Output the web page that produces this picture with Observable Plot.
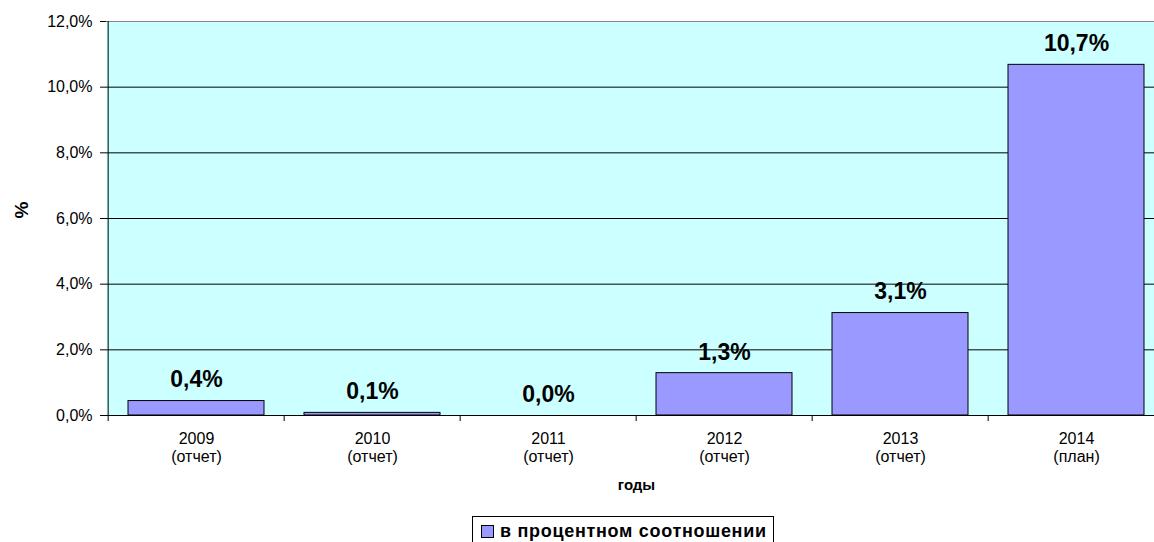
<!DOCTYPE html>
<html>
<head>
<meta charset="utf-8">
<script src="https://cdn.jsdelivr.net/npm/d3@7"></script>
<script src="https://cdn.jsdelivr.net/npm/@observablehq/plot@0.6"></script>
<style>
  html, body { margin: 0; padding: 0; background: #fff; overflow: hidden; }
  body { width: 1154px; height: 542px; font-family: "Liberation Sans", Arial, sans-serif; }
  #legend { margin-left: 472px; margin-top: 11px; display: inline-flex; align-items: center;
    border: 1px solid #000; padding: 4px 6px 4px 8px; font-weight: bold; font-size: 18px; color: #000; letter-spacing: 0.7px; }
  #legend .sw { width: 11px; height: 11px; background: #9999FF; border: 1px solid #000; margin-right: 6px; }
</style>
</head>
<body>
<div id="chart"></div>
<div id="legend"><span class="sw"></span><span>в процентном соотношении</span></div>
<script>
const years = ["2009", "2010", "2011", "2012", "2013", "2014"];
const kinds = ["(отчет)", "(отчет)", "(отчет)", "(отчет)", "(отчет)", "(план)"];
const values = [0.44, 0.08, 0.0, 1.29, 3.12, 10.68];
const yTicks = [0, 2, 4, 6, 8, 10, 12];
const seriesName = "в процентном соотношении";
const xTitle = "годы";
const yTitle = "%";

const data = years.map((y, i) => ({year: y, kind: kinds[i], value: values[i]}));
const kindOf = Object.fromEntries(data.map(d => [d.year, d.kind]));
const fmt = v => v.toFixed(1).replace(".", ",") + "%";

const width = 1154, height = 505;
const mL = 106, mR = -12, mT = 21, mB = 90;
const step = (width - mR - mL) / years.length;

const chart = Plot.plot({
  width, height,
  marginLeft: mL, marginRight: mR, marginTop: mT, marginBottom: mB,
  style: {fontFamily: "Liberation Sans, Arial, sans-serif", background: "transparent", overflow: "visible"},
  x: {domain: years, paddingInner: 0.226, paddingOuter: 0.113},
  y: {domain: [0, 12]},
  marks: [
    Plot.frame({fill: "#CCFFFF", stroke: null}),
    Plot.ruleY(yTicks.filter(t => t > 0 && t < 12), {stroke: "#000", strokeWidth: 1}),
    Plot.ruleY([12], {stroke: "#888", strokeWidth: 1}),
    Plot.barY(data, {x: "year", y: "value", fill: "#9999FF", stroke: "#000", strokeWidth: 1}),
    Plot.text(data, {x: "year", y: "value", text: d => fmt(d.value), dy: -21,
      fontSize: 23, fontWeight: "bold", fill: "#000"}),
    Plot.ruleY([0], {stroke: "#000", strokeWidth: 1}),
    Plot.ruleX([0], {x: () => years[0], dx: -step / 2, y1: 0, y2: 12, stroke: "#000"}),
    Plot.axisY({ticks: yTicks, tickSize: 6, tickPadding: 8, tickFormat: t => t.toFixed(1).replace(".", ",") + "%",
      fontSize: 16, label: null, stroke: "#000", color: "#000"}),
    Plot.axisX({tickSize: 6, dx: -step / 2, tickFormat: null, label: null, stroke: "#000"}),
    Plot.axisX({tickSize: 0, tickPadding: 16, tickFormat: y => y + "\n" + kindOf[y], fontSize: 16,
      lineHeight: 1.12, label: null, color: "#000"}),
    Plot.text([xTitle], {frameAnchor: "bottom", dy: 74, fontWeight: "bold", fontSize: 15, fill: "#000"}),
    Plot.text([yTitle], {frameAnchor: "left", dx: -85, rotate: -90, fontWeight: "bold", fontSize: 19, fill: "#000"})
  ]
});
document.getElementById("chart").appendChild(chart);
</script>
</body>
</html>
